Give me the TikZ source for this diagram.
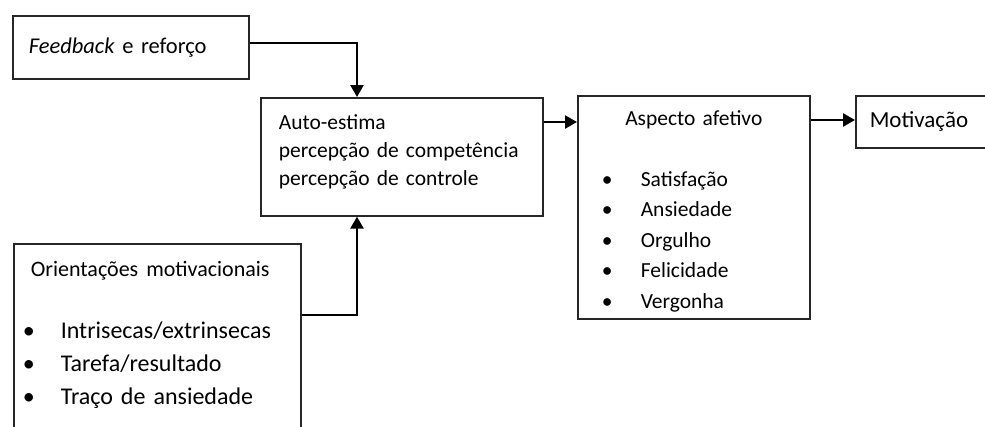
\documentclass[tikz,border=0pt]{standalone}
\usepackage{fontspec}
\setmainfont{Carlito}
\usetikzlibrary{positioning,arrows.meta}

\newcommand{\bul}[2]{\makebox[#1][l]{\textbullet}#2}

\begin{document}
\begin{tikzpicture}[
				x=1pt, y=-1pt,
				font=\fontsize{21.5}{28}\selectfont,
				box/.style={
					draw=black!85,
					line width=1.6pt,
					anchor=north west,
					inner ysep=0pt,
					align=left
				},
				link/.style={
					-{Triangle[length=12pt,width=13pt]},
					line width=2.4pt
				}
				]
				\useasboundingbox (0,0) rectangle (985,426);
				
				\node[box, inner xsep=16pt, text width=204pt, minimum height=63pt, font=\fontsize{22.5}{28}\selectfont] (fb) at (12,15) {\textit{Feedback} e reforço};
				\node[box, inner xsep=18pt, text width=246pt, minimum height=118pt] (auto) at (260,97)
					{Auto-estima\\percepção de competência\\percepção de controle\rule[-13pt]{0pt}{1pt}};
				\node[box, inner xsep=24pt, text width=184pt, minimum height=223pt, font=\fontsize{21.5}{30.5}\selectfont] (afet) at (577,95)
					{\rule{0pt}{23pt}\hfill Aspecto afetivo\hfill\null\\[30.5pt]
					 \bul{39pt}{Satisfação}\\
					 \bul{39pt}{Ansiedade}\\
					 \bul{39pt}{Orgulho}\\
					 \bul{39pt}{Felicidade}\\
					 \bul{39pt}{Vergonha}};
				\node[box, inner xsep=14pt, text width=140pt, minimum height=52pt, font=\fontsize{23}{28}\selectfont] (mot) at (855,95) {Motivação};
				\node[box, inner xsep=9pt, text width=269pt, minimum height=196pt, font=\fontsize{24}{33}\selectfont] (orient) at (13,243)
					{\hspace{8pt}{\fontsize{22}{28}\selectfont Orientações motivacionais}\\[29pt]
					 \bul{38pt}{Intrisecas/extrinsecas}\\
					 \bul{38pt}{Tarefa/resultado}\\
					 \bul{38pt}{Traço de ansiedade}\rule[-18pt]{0pt}{1pt}};
				
				\coordinate (top) at (357,43);
				\coordinate (bot) at (357,315);
				\draw[link] (fb.east |- top) -- (top) -- (top |- auto.north);
				\draw[link] (orient.east |- bot) -- (bot) -- (bot |- auto.south);
				\draw[link] (auto.east |- 0,122) -- (afet.west |- 0,122);
				\draw[link] (afet.east |- 0,120) -- (mot.west |- 0,120);
			\end{tikzpicture}
\end{document}
